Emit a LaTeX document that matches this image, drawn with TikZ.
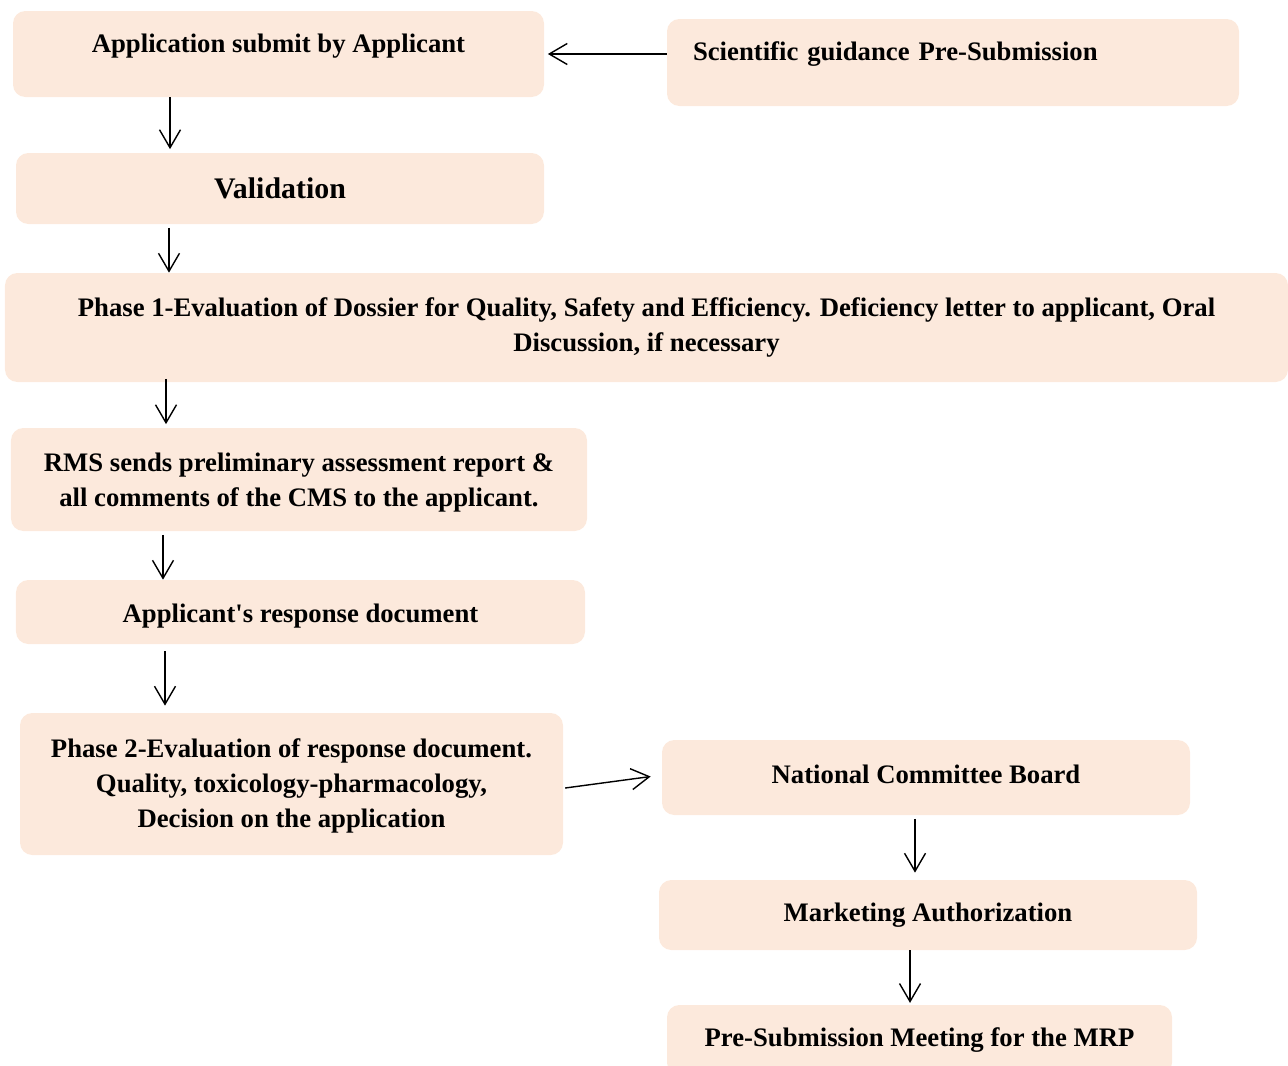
\documentclass[tikz,border=0pt]{standalone}
\usepackage{fontspec}
\setmainfont{Liberation Serif}
\usepackage{tikz}
\usetikzlibrary{arrows.meta,positioning,calc}
\definecolor{mrpFill}{HTML}{FCE9DC}
\tikzset{
  mrpbox/.style={
    fill=mrpFill, rounded corners=7pt, align=center, inner sep=2pt,
    font=\fontsize{15.2}{20}\selectfont\bfseries
  },
  mrparrow/.style={-{Straight Barb[length=3.6mm,width=4.2mm]}, line width=0.8pt, black}
}
\begin{document}
\begin{tikzpicture}
  \useasboundingbox (0,0) rectangle (25.76,-21.3);
  % left column
  \node[mrpbox, minimum width=10.62cm, minimum height=1.72cm, text height=0.4cm, text depth=0.46cm] (app) at (5.57,-1.08) {Application submit by Applicant};
  \node[mrpbox, minimum width=11.44cm, minimum height=1.74cm, text width=10.4cm, inner xsep=0.52cm, align=left, text height=0.4cm, text depth=0.47cm] (sci) at (19.06,-1.25) {Scientific guidance Pre-Submission};
  \node[mrpbox, minimum width=10.56cm, minimum height=1.42cm, font=\fontsize{17}{20}\selectfont\bfseries] (valid) at (5.60,-3.77) {Validation};
  \node[mrpbox, minimum width=25.66cm, minimum height=2.18cm] (phase1) at (12.93,-6.55) {Phase 1-Evaluation of Dossier for Quality, Safety and Efficiency. Deficiency letter to applicant, Oral\\ Discussion, if necessary};
  \node[mrpbox, minimum width=11.52cm, minimum height=2.06cm, text depth=0cm] (rms) at (5.98,-9.59) {RMS sends preliminary assessment report \&\\ all comments of the CMS to the applicant.};
  \node[mrpbox, minimum width=11.38cm, minimum height=1.28cm, text height=0.5cm, text depth=0.1cm] (resp) at (6.01,-12.24) {Applicant\textquotesingle s response document};
  \node[mrpbox, minimum width=10.86cm, minimum height=2.84cm, text depth=0.04cm] (phase2) at (5.83,-15.68) {Phase 2-Evaluation of response document.\\ Quality, toxicology-pharmacology,\\ Decision on the application};
  % right column
  \node[mrpbox, minimum width=10.56cm, minimum height=1.5cm, text height=0.4cm, text depth=0.16cm] (ncb) at (18.52,-15.55) {National Committee Board};
  \node[mrpbox, minimum width=10.76cm, minimum height=1.4cm] (ma) at (18.56,-18.30) {Marketing Authorization};
  \node[mrpbox, minimum width=10.1cm, minimum height=1.4cm] (psm) at (18.39,-20.8) {Pre-Submission Meeting for the MRP};

  % connectors
  \draw[mrparrow] (sci.west |- app.east) -- ([xshift=2pt]app.east);
  \draw[mrparrow] (app.south -| 3.4,0) -- ([yshift=2pt]valid.north -| 3.4,0);
  \draw[mrparrow] ([yshift=-2pt]valid.south -| 3.38,0) -- (phase1.north -| 3.38,0);
  \draw[mrparrow] ([yshift=2pt]phase1.south -| 3.32,0) -- ([yshift=2pt]rms.north -| 3.32,0);
  \draw[mrparrow] ([yshift=-2pt]rms.south -| 3.26,0) -- (resp.north -| 3.26,0);
  \draw[mrparrow] ([yshift=-4pt]resp.south -| 3.3,0) -- ([yshift=4pt]phase2.north -| 3.3,0);
  \draw[mrparrow] ([xshift=1pt,yshift=-0.08cm]phase2.east) -- ([xshift=-0.22cm,yshift=0.02cm]ncb.west);
  \draw[mrparrow] ([yshift=-2pt]ncb.south -| 18.3,0) -- ([yshift=4pt]ma.north -| 18.3,0);
  \draw[mrparrow] (ma.south -| 18.2,0) -- ([yshift=1pt]psm.north -| 18.2,0);
\end{tikzpicture}
\end{document}
